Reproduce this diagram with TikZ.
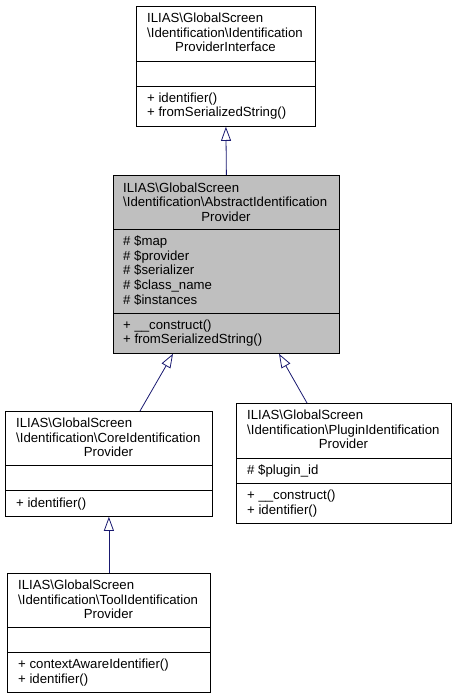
\documentclass[tikz,border=0pt]{standalone}
\usepackage{fontspec}
\setmainfont{Liberation Sans}
\usetikzlibrary{arrows.meta,positioning}
\definecolor{edgeblue}{HTML}{191970}
\definecolor{boxgray}{HTML}{BFBFBF}

\begin{document}
\begin{tikzpicture}[x=1pt,y=-1pt,
    cls/.style={draw=black,rectangle,inner sep=0pt,anchor=north west,line width=0.8pt},
    ln/.style={inner sep=0pt,anchor=base west,font=\fontsize{13.2}{15}\selectfont},
    lnc/.style={ln,anchor=base},
    inh/.style={draw=edgeblue,line width=0.8pt,-{Triangle[open,length=14pt,width=10pt]}}]
  \useasboundingbox (0,0) rectangle (456,699);

  % interface
  \node[cls,minimum width=179pt,minimum height=120pt] (iface) at (136,6) {};
  \draw[line width=0.8pt] (136,61) -- (315,61) (136,86) -- (315,86);
  \node[ln] (iface1) at (147,22.6) {ILIAS\textbackslash GlobalScreen};
  \node[ln] (iface2) at (147,37.2) {\textbackslash Identification\textbackslash Identification};
  \node[lnc] (iface3) at (225.5,51.7) {ProviderInterface};
  \node[ln] (iface4) at (147,102) {+ identifier()};
  \node[ln] (iface5) at (147,116.5) {+ fromSerializedString()};

  % abstract provider
  \node[cls,fill=boxgray,minimum width=226pt,minimum height=178pt] (abstr) at (113,175) {};
  \draw[line width=0.8pt] (113,229) -- (339,229) (113,313) -- (339,313);
  \node[ln] (abstr1) at (123,192.2) {ILIAS\textbackslash GlobalScreen};
  \node[ln] (abstr2) at (123,206.8) {\textbackslash Identification\textbackslash AbstractIdentification};
  \node[lnc] (abstr3) at (226,221.3) {Provider};
  \node[ln] (abstr4) at (123,245.5) {\# \$map};
  \node[ln] (abstr5) at (123,260.2) {\# \$provider};
  \node[ln] (abstr6) at (123,274.9) {\# \$serializer};
  \node[ln] (abstr7) at (123,289.6) {\# \$class\_name};
  \node[ln] (abstr8) at (123,304.3) {\# \$instances};
  \node[ln] (abstr9) at (123,329) {+ \_\_construct()};
  \node[ln] (abstr10) at (123,343.7) {+ fromSerializedString()};

  % core provider
  \node[cls,minimum width=207pt,minimum height=105pt] (core) at (5,411) {};
  \draw[line width=0.8pt] (5,465) -- (212,465) (5,490) -- (212,490);
  \node[ln] (core1) at (16,427.4) {ILIAS\textbackslash GlobalScreen};
  \node[ln] (core2) at (16,442) {\textbackslash Identification\textbackslash CoreIdentification};
  \node[lnc] (core3) at (108.5,456.5) {Provider};
  \node[ln] (core4) at (16,507.5) {+ identifier()};

  % plugin provider
  \node[cls,minimum width=215pt,minimum height=120pt] (plugin) at (236,403) {};
  \draw[line width=0.8pt] (236,458) -- (451,458) (236,483) -- (451,483);
  \node[ln] (plugin1) at (247,419.4) {ILIAS\textbackslash GlobalScreen};
  \node[ln] (plugin2) at (247,434) {\textbackslash Identification\textbackslash PluginIdentification};
  \node[lnc] (plugin3) at (343.5,448.5) {Provider};
  \node[ln] (plugin4) at (247,474.5) {\# \$plugin\_id};
  \node[ln] (plugin5) at (247,499.5) {+ \_\_construct()};
  \node[ln] (plugin6) at (247,514.2) {+ identifier()};

  % tool provider
  \node[cls,minimum width=203pt,minimum height=119pt] (tool) at (7,573) {};
  \draw[line width=0.8pt] (7,627) -- (210,627) (7,652) -- (210,652);
  \node[ln] (tool1) at (18,589.4) {ILIAS\textbackslash GlobalScreen};
  \node[ln] (tool2) at (18,604) {\textbackslash Identification\textbackslash ToolIdentification};
  \node[lnc] (tool3) at (108.5,618.5) {Provider};
  \node[ln] (tool4) at (18,668.5) {+ contextAwareIdentifier()};
  \node[ln] (tool5) at (18,683.2) {+ identifier()};

  \draw[inh] (abstr.north) -- (iface.south);
  \draw[inh] ([xshift=135pt]core.north west) -- ([xshift=60pt]abstr.south west);
  \draw[inh] ([xshift=71pt]plugin.north west) -- ([xshift=166pt]abstr.south west);
  \draw[inh] (tool.north -| core.south) -- (core.south);
\end{tikzpicture}
\end{document}
